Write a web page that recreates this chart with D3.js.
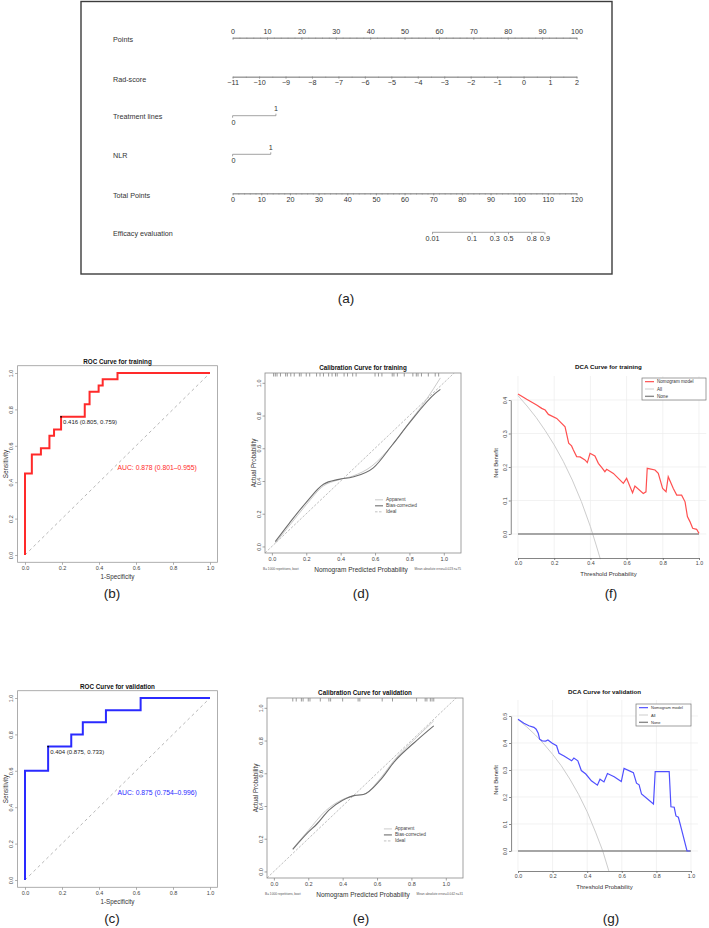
<!DOCTYPE html>
<html><head><meta charset="utf-8">
<script src="https://cdn.jsdelivr.net/npm/d3@7"></script>
<style>body{margin:0;background:#fff}svg{display:block}</style>
</head><body>
<script>
// ================= DATA =================
// Nomogram (a)
const nomoRowLabels = ["Points","Rad-score","Treatment lines","NLR","Total Points","Efficacy evaluation"];
const pointsTicks = [0,10,20,30,40,50,60,70,80,90,100];
const radScoreTicks = [-11,-10,-9,-8,-7,-6,-5,-4,-3,-2,-1,0,1,2];
const treatmentLevels = ["0","1"];
const treatmentPoints = [0,12.6];
const nlrLevels = ["0","1"];
const nlrPoints = [0,11.1];
const totalPointsTicks = [0,10,20,30,40,50,60,70,80,90,100,110,120];
const efficacyLabels = ["0.01","0.1","0.3","0.5","0.8","0.9"];
const efficacyTotalPoints = [69.6,83.4,91.3,96.1,104.2,108.8];

// ROC (b) training, (c) validation
const rocTicks = [0,0.2,0.4,0.6,0.8,1];
const rocTrainFpr = [0,0,0.037,0.037,0.086,0.086,0.132,0.132,0.157,0.157,0.195,0.195,0.323,0.323,0.349,0.349,0.398,0.398,0.42,0.42,0.5,0.5,1];
const rocTrainTpr = [0,0.448,0.448,0.552,0.552,0.586,0.586,0.655,0.655,0.69,0.69,0.759,0.759,0.828,0.828,0.897,0.897,0.931,0.931,0.966,0.966,1,1];
const rocValFpr = [0,0,0.125,0.125,0.25,0.25,0.3125,0.3125,0.4375,0.4375,0.625,0.625,1];
const rocValTpr = [0,0.6,0.6,0.733,0.733,0.8,0.8,0.867,0.867,0.933,0.933,1,1];

// Calibration (d) training, (e) validation
const calTicks = [0,0.2,0.4,0.6,0.8,1];
const calLegendLabels = ["Apparent","Bias-corrected","Ideal"];
const calTrainApparentX = [0.02,0.1,0.2,0.3,0.38,0.47,0.58,0.7,0.8,0.9,0.98];
const calTrainApparentY = [0.02,0.125,0.255,0.37,0.405,0.43,0.49,0.62,0.76,0.9,1.03];
const calTrainBiasX = [0.02,0.1,0.2,0.3,0.39,0.47,0.59,0.7,0.8,0.95,0.98];
const calTrainBiasY = [0.03,0.14,0.27,0.38,0.41,0.425,0.48,0.62,0.755,0.935,0.96];
const calTrainRug = [0.01,0.02,0.03,0.05,0.08,0.09,0.11,0.13,0.16,0.17,0.2,0.22,0.26,0.28,0.3,0.33,0.35,0.37,0.38,0.42,0.44,0.47,0.49,0.6,0.62,0.64,0.7,0.71,0.73,0.77,0.82,0.84,0.85,0.87,0.91,0.95,0.97];
const calValApparentX = [0.11,0.2,0.3,0.4,0.48,0.52,0.62,0.7,0.83,0.93];
const calValApparentY = [0.14,0.25,0.37,0.44,0.465,0.47,0.57,0.68,0.82,0.92];
const calValBiasX = [0.11,0.2,0.25,0.32,0.4,0.47,0.52,0.62,0.7,0.83,0.93];
const calValBiasY = [0.135,0.24,0.29,0.375,0.435,0.465,0.47,0.56,0.67,0.8,0.89];
const calValRug = [0.11,0.13,0.16,0.17,0.2,0.21,0.27,0.32,0.33,0.4,0.49,0.5,0.63,0.69,0.83,0.88,0.89,0.91,0.92,0.93];

// DCA (f) training, (g) validation
const dcaXTicks = [0,0.2,0.4,0.6,0.8,1];
const dcaTrainYTicks = [0,0.1,0.2,0.3,0.4];
const dcaValYTicks = [0,0.1,0.2,0.3,0.4,0.5];
const dcaLegendLabels = ["Nomogram model","All","None"];
const dcaTrainModelX = [0,0.048,0.103,0.131,0.15,0.168,0.214,0.26,0.28,0.296,0.306,0.324,0.343,0.37,0.383,0.398,0.425,0.444,0.462,0.48,0.49,0.527,0.582,0.6,0.619,0.633,0.646,0.692,0.707,0.714,0.757,0.775,0.799,0.818,0.83,0.858,0.877,0.904,0.923,0.936,0.95,0.965,0.987,1.0];
const dcaTrainModelY = [0.418,0.402,0.385,0.375,0.37,0.357,0.345,0.32,0.271,0.263,0.251,0.231,0.23,0.221,0.213,0.241,0.233,0.211,0.199,0.186,0.193,0.181,0.151,0.166,0.141,0.123,0.143,0.121,0.126,0.196,0.191,0.181,0.136,0.126,0.171,0.136,0.116,0.116,0.096,0.052,0.037,0.017,0.014,0.002];
const dcaTrainAllX = [0,0.05,0.1,0.15,0.2,0.25,0.3,0.35,0.4,0.43,0.455];
const dcaTrainAllY = [0.413,0.382,0.348,0.309,0.266,0.217,0.161,0.097,0.022,-0.03,-0.075];
const dcaValModelX = [0,0.034,0.063,0.092,0.105,0.117,0.125,0.14,0.16,0.173,0.198,0.223,0.237,0.266,0.31,0.323,0.346,0.366,0.392,0.424,0.459,0.474,0.497,0.517,0.556,0.597,0.613,0.667,0.685,0.7,0.714,0.783,0.793,0.874,0.884,0.903,0.913,0.927,0.946,0.977,0.995];
const dcaValModelY = [0.488,0.473,0.464,0.458,0.451,0.436,0.414,0.408,0.407,0.411,0.399,0.39,0.362,0.352,0.334,0.344,0.334,0.298,0.285,0.26,0.244,0.266,0.256,0.287,0.275,0.257,0.306,0.29,0.251,0.245,0.211,0.174,0.294,0.294,0.164,0.162,0.13,0.125,0.078,0,0];
const dcaValAllX = [0,0.05,0.1,0.15,0.2,0.25,0.3,0.35,0.4,0.45,0.49,0.525];
const dcaValAllY = [0.487,0.46,0.43,0.396,0.358,0.316,0.266,0.21,0.145,0.067,0.0,-0.074];
const dcaNoneX = [0,1];
const dcaNoneY = [0,0];

const panelLabels = ["(a)","(b)","(c)","(d)","(e)","(f)","(g)"];

// ================= DRAWING =================
const F = "'Liberation Sans', Arial, Helvetica, sans-serif";
const svg = d3.select("body").append("svg").attr("width",709).attr("height",928);
svg.append("rect").attr("width",709).attr("height",928).attr("fill","#fff");

function txt(g,x,y,s,o={}){
  const t = g.append("text").attr("x",x).attr("y",y).text(s)
    .attr("font-family",F).attr("font-size",o.size||7).attr("fill",o.fill||"#222")
    .attr("text-anchor",o.anchor||"start").attr("font-weight",o.weight||"normal")
    .attr("dominant-baseline",o.base||"central");
  if(o.rot) t.attr("transform",`rotate(${o.rot},${x},${y})`);
  return t;
}
function styleAxis(g,col,fs,tcol){
  g.selectAll(".domain").attr("stroke",col).attr("stroke-width",0.8);
  g.selectAll(".tick line").attr("stroke",col).attr("stroke-width",0.8);
  g.selectAll(".tick text").attr("font-family",F).attr("font-size",fs).attr("fill",tcol||"#333");
}
function rotateYLabels(g,off){
  g.selectAll(".tick text").attr("transform","rotate(-90)").attr("x",0).attr("y",-off)
    .attr("dy","0").style("text-anchor","middle");
}

// ---------- (a) Nomogram ----------
const nomo = svg.append("g");
nomo.append("rect").attr("x",81).attr("y",1.5).attr("width",531).attr("height",272.5)
  .attr("fill","none").attr("stroke","#3c3c3c").attr("stroke-width",1.4);
const AX0 = 232.6, AX1 = 576.5;
const ptsScale = d3.scaleLinear().domain([0,100]).range([AX0,AX1]);
const radScale = d3.scaleLinear().domain([-11,2]).range([AX0,AX1]);
const totScale = d3.scaleLinear().domain([0,120]).range([AX0,AX1]);
const rowY = [39.3,79,116.7,155.7,195,233.3];
const NF = 7.2;
nomoRowLabels.forEach((l,i)=>txt(nomo,113,rowY[i],l,{size:NF,fill:"#333"}));
const NC = "#8c8c8c";
// Points
let g = nomo.append("g").attr("transform","translate(0,37.7)")
  .call(d3.axisTop(ptsScale).tickValues(pointsTicks).tickSize(-2).tickPadding(3.5).tickSizeOuter(0));
styleAxis(g,NC,NF);
g = nomo.append("g").attr("transform","translate(0,37.7)")
  .call(d3.axisTop(ptsScale).tickValues(d3.range(0,101,2)).tickFormat("").tickSize(-1.2).tickSizeOuter(0));
styleAxis(g,NC,NF);
// Rad-score
g = nomo.append("g").attr("transform","translate(0,76.7)")
  .call(d3.axisBottom(radScale).tickValues(radScoreTicks).tickSize(2).tickPadding(1.5).tickSizeOuter(0));
styleAxis(g,NC,NF);
g = nomo.append("g").attr("transform","translate(0,76.7)")
  .call(d3.axisBottom(radScale).tickValues(d3.range(-11,2.01,0.5)).tickFormat("").tickSize(1.2).tickSizeOuter(0));
styleAxis(g,NC,NF);
// Treatment lines & NLR
function catRow(y,levels,pts){
  const x0 = ptsScale(pts[0]), x1 = ptsScale(pts[1]);
  nomo.append("line").attr("x1",x0).attr("x2",x1).attr("y1",y).attr("y2",y).attr("stroke",NC).attr("stroke-width",0.8);
  nomo.append("line").attr("x1",x1).attr("x2",x1).attr("y1",y).attr("y2",y-2).attr("stroke",NC).attr("stroke-width",0.8);
  nomo.append("line").attr("x1",x0).attr("x2",x0).attr("y1",y).attr("y2",y+2).attr("stroke",NC).attr("stroke-width",0.8);
  txt(nomo,x1,y-6.8,levels[1],{size:NF,anchor:"middle",fill:"#333"});
  txt(nomo,x0+1,y+6.6,levels[0],{size:NF,anchor:"middle",fill:"#333"});
}
catRow(115.7,treatmentLevels,treatmentPoints);
catRow(154.3,nlrLevels,nlrPoints);
// Total points
g = nomo.append("g").attr("transform","translate(0,193.3)")
  .call(d3.axisBottom(totScale).tickValues(totalPointsTicks).tickSize(2).tickPadding(2).tickSizeOuter(0));
styleAxis(g,NC,NF);
g = nomo.append("g").attr("transform","translate(0,193.3)")
  .call(d3.axisBottom(totScale).tickValues(d3.range(0,121,2)).tickFormat("").tickSize(1.2).tickSizeOuter(0));
styleAxis(g,NC,NF);
// Efficacy
g = nomo.append("g").attr("transform","translate(0,232.3)")
  .call(d3.axisBottom(totScale).tickValues(efficacyTotalPoints).tickFormat((d,i)=>efficacyLabels[i]).tickSize(2).tickPadding(1.5).tickSizeOuter(0));
g.select(".domain").remove();
styleAxis(g,NC,NF);
nomo.append("line").attr("x1",totScale(efficacyTotalPoints[0])).attr("x2",totScale(efficacyTotalPoints[efficacyTotalPoints.length-1]))
  .attr("y1",232.3).attr("y2",232.3).attr("stroke",NC).attr("stroke-width",0.8);
txt(svg,346,298,panelLabels[0],{size:13.5,anchor:"middle",fill:"#222"});

// ---------- ROC ----------
function drawROC(o){
  const g = svg.append("g");
  const xs = d3.scaleLinear().domain([0,1]).range(o.xr);
  const ys = d3.scaleLinear().domain([0,1]).range(o.yr);
  const bx0=xs(-0.04), bx1=xs(1.04), by0=ys(1.04), by1=ys(-0.04);
  g.append("line").attr("x1",xs(0)).attr("y1",ys(0)).attr("x2",xs(1)).attr("y2",ys(1))
    .attr("stroke","#b8b8b8").attr("stroke-width",1).attr("stroke-dasharray","3,3");
  const line = d3.line().x(d=>xs(d[0])).y(d=>ys(d[1]));
  g.append("path").datum(d3.zip(o.fpr,o.tpr)).attr("d",line).attr("fill","none")
    .attr("stroke",o.color).attr("stroke-width",2);
  g.append("rect").attr("x",bx0).attr("y",by0).attr("width",bx1-bx0).attr("height",by1-by0)
    .attr("fill","none").attr("stroke","#9a9a9a").attr("stroke-width",0.8);
  let ax = g.append("g").attr("transform",`translate(0,${by1})`)
    .call(d3.axisBottom(xs).tickValues(rocTicks).tickFormat(d3.format(".1f")).tickSize(2.5).tickPadding(1.5));
  ax.select(".domain").remove(); styleAxis(ax,"#9a9a9a",5.5,"#444");
  let ay = g.append("g").attr("transform",`translate(${bx0},0)`)
    .call(d3.axisLeft(ys).tickValues(rocTicks).tickFormat(d3.format(".1f")).tickSize(2.5));
  ay.select(".domain").remove(); styleAxis(ay,"#9a9a9a",5.5,"#444"); rotateYLabels(ay,4.5);
  txt(g,(bx0+bx1)/2,by0-2,o.title,{size:6.3,weight:"bold",anchor:"middle",base:"auto",fill:"#111"});
  txt(g,(bx0+bx1)/2,by1+14.5,"1-Specificity",{size:6.3,anchor:"middle",fill:"#333"});
  txt(g,5,(by0+by1)/2,"Sensitivity",{size:6.3,anchor:"middle",fill:"#333",rot:-90});
  g.append("circle").attr("cx",xs(o.cut[0])).attr("cy",ys(o.cut[1])).attr("r",0.9).attr("fill","#000");
  txt(g,xs(o.cut[0])+2,ys(o.cut[1])+5,o.cutLabel,{size:6,fill:"#222"});
  txt(g,xs(0.5),ys(o.aucY),o.aucLabel,{size:6.8,fill:o.color});
  txt(svg,112,o.labelY,o.panel,{size:13.5,anchor:"middle",fill:"#222"});
}
drawROC({xr:[25,210],yr:[555,373],fpr:rocTrainFpr,tpr:rocTrainTpr,color:"#ff2a2a",
  title:"ROC Curve for training",cut:[0.195,0.759],cutLabel:"0.416 (0.805, 0.759)",
  aucLabel:"AUC: 0.878 (0.801\u20130.955)",aucY:0.48,panel:panelLabels[1],labelY:593});
drawROC({xr:[25,210],yr:[880,698],fpr:rocValFpr,tpr:rocValTpr,color:"#2a2aff",
  title:"ROC Curve for validation",cut:[0.125,0.733],cutLabel:"0.404 (0.875, 0.733)",
  aucLabel:"AUC: 0.875 (0.754\u20130.996)",aucY:0.48,panel:panelLabels[2],labelY:918});

// ---------- Calibration ----------
function drawCal(o){
  const g = svg.append("g");
  const xs = d3.scaleLinear().domain([-0.04,1.1]).range(o.xr);
  const ys = d3.scaleLinear().domain([-0.04,1.06]).range(o.yr);
  const bx0=o.xr[0], bx1=o.xr[1], by0=o.yr[1], by1=o.yr[0];
  const clip = "clip"+o.id;
  g.append("clipPath").attr("id",clip).append("rect").attr("x",bx0).attr("y",by0).attr("width",bx1-bx0).attr("height",by1-by0);
  const pg = g.append("g").attr("clip-path",`url(#${clip})`);
  pg.append("line").attr("x1",xs(-0.04)).attr("y1",ys(-0.04)).attr("x2",xs(1.1)).attr("y2",ys(1.1))
    .attr("stroke","#b0b0b0").attr("stroke-width",0.8).attr("stroke-dasharray","2.5,1.5");
  const line = d3.line().x(d=>xs(d[0])).y(d=>ys(d[1])).curve(d3.curveMonotoneX);
  pg.append("path").datum(d3.zip(o.ax,o.ay)).attr("d",line).attr("fill","none").attr("stroke","#c4c4c4").attr("stroke-width",0.9);
  pg.append("path").datum(d3.zip(o.bx,o.by)).attr("d",line).attr("fill","none").attr("stroke","#6e6e6e").attr("stroke-width",1.1);
  g.selectAll(null).data(o.rug).enter().append("line")
    .attr("x1",d=>xs(d)).attr("x2",d=>xs(d)).attr("y1",by0).attr("y2",by0+3.5)
    .attr("stroke","#555").attr("stroke-width",0.6);
  g.append("rect").attr("x",bx0).attr("y",by0).attr("width",bx1-bx0).attr("height",by1-by0)
    .attr("fill","none").attr("stroke","#8a8a8a").attr("stroke-width",0.8);
  let ax = g.append("g").attr("transform",`translate(0,${by1})`)
    .call(d3.axisBottom(xs).tickValues(calTicks).tickFormat(d3.format(".1f")).tickSize(2.5).tickPadding(1.5));
  ax.select(".domain").remove(); styleAxis(ax,"#8a8a8a",5.5,"#444");
  let ay = g.append("g").attr("transform",`translate(${bx0},0)`)
    .call(d3.axisLeft(ys).tickValues(calTicks).tickFormat(d3.format(".1f")).tickSize(2.5));
  ay.select(".domain").remove(); styleAxis(ay,"#8a8a8a",5.5,"#444"); rotateYLabels(ay,4.5);
  txt(g,(bx0+bx1)/2,by0-3,o.title,{size:6.3,weight:"bold",anchor:"middle",base:"auto",fill:"#111"});
  txt(g,(bx0+bx1)/2-2,by1+16,"Nomogram Predicted Probability",{size:6.5,anchor:"middle",fill:"#333"});
  txt(g,bx0-12,(by0+by1)/2,"Actual Probability",{size:6.3,anchor:"middle",fill:"#333",rot:-90});
  txt(g,bx0-2,by1+16,"B= 1000 repetitions, boot",{size:3.2,fill:"#555"});
  txt(g,bx1,by1+16,o.mae,{size:3.2,fill:"#555",anchor:"end"});
  const lx = xs(o.leg[0]), ly = ys(o.leg[1]);
  const styles = [{c:"#c4c4c4",w:0.9,d:null},{c:"#6e6e6e",w:1.1,d:null},{c:"#b0b0b0",w:0.8,d:"2.5,1.5"}];
  calLegendLabels.forEach((l,i)=>{
    const yy = ly + i*6;
    const ln = g.append("line").attr("x1",lx).attr("x2",lx+8).attr("y1",yy).attr("y2",yy)
      .attr("stroke",styles[i].c).attr("stroke-width",styles[i].w);
    if(styles[i].d) ln.attr("stroke-dasharray",styles[i].d);
    txt(g,lx+11,yy,l,{size:4.8,fill:"#444"});
  });
  txt(svg,361,o.labelY,o.panel,{size:13.5,anchor:"middle",fill:"#222"});
}
drawCal({id:"t",xr:[265,461],yr:[553,373],ax:calTrainApparentX,ay:calTrainApparentY,bx:calTrainBiasX,by:calTrainBiasY,
  rug:calTrainRug,title:"Calibration Curve for training",mae:"Mean absolute error=0.023 n=75",leg:[0.6,0.285],panel:panelLabels[3],labelY:593});
drawCal({id:"v",xr:[267,463],yr:[878,698],ax:calValApparentX,ay:calValApparentY,bx:calValBiasX,by:calValBiasY,
  rug:calValRug,title:"Calibration Curve for validation",mae:"Mean absolute error=0.042 n=31",leg:[0.64,0.26],panel:panelLabels[4],labelY:918});

// ---------- DCA ----------
function drawDCA(o){
  const g = svg.append("g");
  const xs = d3.scaleLinear().domain([0,1]).range(o.xr);
  const ys = d3.scaleLinear().domain([0,o.yt[o.yt.length-1]]).range(o.yr);
  const left = xs(-0.04), right = xs(1.04), top = o.top, bottom = o.bottom;
  dcaXTicks.forEach(t=>g.append("line").attr("x1",xs(t)).attr("x2",xs(t)).attr("y1",top).attr("y2",bottom)
    .attr("stroke","#ececec").attr("stroke-width",0.7));
  o.yt.forEach(t=>g.append("line").attr("x1",left).attr("x2",right).attr("y1",ys(t)).attr("y2",ys(t))
    .attr("stroke","#ececec").attr("stroke-width",0.7));
  const line = d3.line().x(d=>xs(d[0])).y(d=>ys(d[1]));
  g.append("path").datum(d3.zip(o.allX,o.allY)).attr("d",line).attr("fill","none").attr("stroke","#cdcdcd").attr("stroke-width",1);
  g.append("path").datum(d3.zip(dcaNoneX,dcaNoneY)).attr("d",line).attr("fill","none").attr("stroke","#8a8a8a").attr("stroke-width",1.4);
  g.append("path").datum(d3.zip(o.mX,o.mY)).attr("d",line).attr("fill","none").attr("stroke",o.color).attr("stroke-width",1.2);
  let ax = g.append("g").attr("transform",`translate(0,${bottom})`)
    .call(d3.axisBottom(xs).tickValues(dcaXTicks).tickFormat(d3.format(".1f")).tickSize(2).tickPadding(1.2).tickSizeOuter(0));
  styleAxis(ax,"#666",5.3,"#444");
  let ay = g.append("g").attr("transform",`translate(${left},0)`)
    .call(d3.axisLeft(ys).tickValues(o.yt).tickFormat(d3.format(".1f")).tickSize(2).tickSizeOuter(0));
  styleAxis(ay,"#666",5.3,"#444"); rotateYLabels(ay,4);
  txt(g,(left+right)/2,o.titleY,o.title,{size:6.2,weight:"bold",anchor:"middle",base:"auto",fill:"#111"});
  txt(g,(xs(0)+xs(1))/2,bottom+16,"Threshold Probability",{size:6,anchor:"middle",fill:"#333"});
  txt(g,left-15,o.ylabY,"Net Benefit",{size:6,anchor:"middle",fill:"#333",rot:-90});
  const L = o.leg;
  g.append("rect").attr("x",L[0]).attr("y",L[1]).attr("width",L[2]).attr("height",L[3]).attr("fill","#fff")
    .attr("stroke","#777").attr("stroke-width",0.7);
  const cols = [[o.color,1.2],["#cdcdcd",1],["#8a8a8a",1.4]];
  const step = L[3]/3;
  dcaLegendLabels.forEach((l,i)=>{
    const yy = L[1]+step*(i+0.5);
    g.append("line").attr("x1",L[0]+3).attr("x2",L[0]+12).attr("y1",yy).attr("y2",yy).attr("stroke",cols[i][0]).attr("stroke-width",cols[i][1]);
    txt(g,L[0]+15,yy,l,{size:o.legFs,fill:"#333"});
  });
  txt(svg,611,o.labelY,o.panel,{size:13.5,anchor:"middle",fill:"#222"});
}
drawDCA({xr:[518,699],yr:[534,400],yt:dcaTrainYTicks,top:376,bottom:558,mX:dcaTrainModelX,mY:dcaTrainModelY,
  allX:dcaTrainAllX,allY:dcaTrainAllY,color:"#ff5050",title:"DCA Curve for training",titleY:369,ylabY:463,
  leg:[642,378,64,22],legFs:4.6,panel:panelLabels[5],labelY:593});
drawDCA({xr:[518,691],yr:[851,716],yt:dcaValYTicks,top:700,bottom:871,mX:dcaValModelX,mY:dcaValModelY,
  allX:dcaValAllX,allY:dcaValAllY,color:"#5050ff",title:"DCA Curve for validation",titleY:694,ylabY:780,
  leg:[636,704,55,22],legFs:4,panel:panelLabels[6],labelY:918});
</script>
</body></html>
